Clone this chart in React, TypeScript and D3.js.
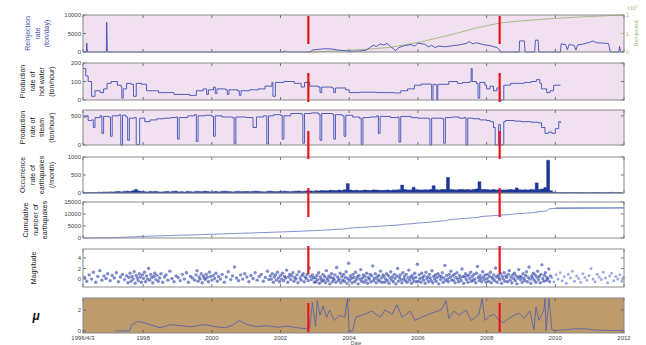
import React from 'react';
import * as d3 from 'd3';

// x axis (decimal years)
const xTickYears = [1996.25, 1998, 2000, 2002, 2004, 2006, 2008, 2010, 2012];
const xTickLabels = ['1996/4/3', '1998', '2000', '2002', '2004', '2006', '2008', '2010', '2012'];
const redLineYears = [2002.81, 2008.38];
// hand-drawn red marks: vertical spans in px
const redSpans = [[16, 44], [73, 102], [131, 159], [188, 217], [246, 274], [303, 332]];

// panel 1: reinjection rate (ton/day) and cumulative reinjection (x10^7)
const reinjection = [
  [1996.25, 0], [1996.35, 0], [1996.36, 2400], [1996.38, 0], [1996.93, 0], [1996.94, 8000], [1996.96, 0],
  [2002.1, 0], [2002.12, 300], [2002.2, 0], [2002.85, 0], [2002.95, 600], [2003.1, 700], [2003.3, 900],
  [2003.5, 800], [2003.7, 500], [2003.9, 300], [2004.1, 200], [2004.3, 250], [2004.5, 500], [2004.6, 1200],
  [2004.7, 1800], [2004.8, 1500], [2004.9, 2200], [2005.0, 1900], [2005.1, 2300], [2005.2, 1500],
  [2005.3, 800], [2005.35, 400], [2005.45, 1200], [2005.6, 1700], [2005.8, 2000], [2005.9, 1600],
  [2006.0, 2400], [2006.2, 2100], [2006.3, 1400], [2006.4, 1800], [2006.5, 1200], [2006.6, 1600],
  [2006.8, 1400], [2007.0, 1700], [2007.2, 1900], [2007.4, 2300], [2007.5, 2800], [2007.6, 2200],
  [2007.7, 2500], [2007.9, 2000], [2008.1, 1700], [2008.3, 1200], [2008.38, 600], [2008.4, 0],
  [2008.95, 0], [2008.96, 3000], [2009.1, 3000], [2009.12, 0], [2009.4, 0], [2009.42, 3200],
  [2009.5, 3200], [2009.52, 0], [2010.15, 0], [2010.17, 2200], [2010.3, 2000], [2010.35, 600],
  [2010.4, 2000], [2010.55, 1800], [2010.6, 500], [2010.65, 1900], [2010.8, 2100], [2010.9, 2400],
  [2011.0, 2600], [2011.1, 3000], [2011.2, 2500], [2011.4, 2400], [2011.55, 2300], [2011.6, 0],
  [2011.85, 0], [2011.87, 1500], [2011.9, 0], [2012, 0],
];
const cumReinjection = [
  [2002.8, 0], [2003.5, 0.05], [2004.5, 0.15], [2005.2, 0.25], [2006.1, 0.55], [2007.0, 0.95],
  [2007.7, 1.3], [2008.4, 1.57], [2009.0, 1.68], [2010.0, 1.82], [2011.0, 1.92], [2012.0, 2.0],
];

// panel 2: production rate of hot water (ton/hour)
const hotWater = [
  [1996.25, 170], [1996.33, 130], [1996.4, 100], [1996.5, 20], [1996.6, 50], [1996.75, 40], [1996.85, 60],
  [1996.95, 90], [1997.07, 100], [1997.25, 80], [1997.36, 70], [1997.38, 10], [1997.42, 60], [1997.52, 90],
  [1997.65, 85], [1997.72, 20], [1997.8, 90], [1997.95, 85], [1998.1, 50], [1998.45, 40], [1998.9, 30],
  [1999.35, 25], [1999.55, 50], [1999.75, 60], [1999.85, 30], [1999.9, 55], [2000.05, 70], [2000.1, 35],
  [2000.15, 60], [2000.4, 55], [2000.45, 30], [2000.5, 55], [2000.75, 50], [2000.8, 25], [2000.85, 50],
  [2001.1, 55], [2001.35, 60], [2001.55, 75], [2001.75, 95], [2001.78, 20], [2001.85, 95], [2002.1, 100],
  [2002.4, 90], [2002.6, 70], [2002.7, 95], [2002.85, 75], [2003.1, 70], [2003.15, 40], [2003.2, 70],
  [2003.5, 65], [2003.55, 40], [2003.6, 65], [2003.9, 55], [2004.0, 40], [2004.3, 42], [2004.8, 40],
  [2005.3, 38], [2005.5, 50], [2005.7, 60], [2005.9, 80], [2006.1, 86], [2006.38, 85], [2006.4, 0],
  [2006.44, 85], [2006.52, 80], [2006.55, 0], [2006.58, 85], [2006.9, 100], [2007.15, 90], [2007.3, 95],
  [2007.52, 100], [2007.55, 170], [2007.58, 100], [2007.7, 90], [2007.75, 10], [2007.8, 95], [2007.95, 80],
  [2008.0, 60], [2008.1, 75], [2008.2, 50], [2008.3, 65], [2008.38, 0], [2008.45, 0], [2008.5, 80],
  [2008.7, 90], [2008.9, 90], [2009.1, 95], [2009.3, 100], [2009.45, 110], [2009.55, 90], [2009.6, 60],
  [2009.75, 40], [2009.85, 50], [2009.95, 80], [2010.15, 80],
];

// panel 3: production rate of steam (ton/hour)
const steam = [
  [1996.25, 480], [1996.35, 500], [1996.4, 420], [1996.5, 430], [1996.55, 300], [1996.6, 470], [1996.75, 500],
  [1996.8, 200], [1996.85, 490], [1997.0, 480], [1997.05, 150], [1997.1, 500], [1997.3, 520], [1997.35, 0],
  [1997.4, 510], [1997.5, 480], [1997.55, 80], [1997.6, 460], [1997.75, 470], [1997.8, 10], [1997.85, 10],
  [1997.9, 460], [1998.05, 400], [1998.2, 430], [1998.4, 450], [1998.6, 460], [1998.8, 470], [1998.95, 480],
  [1999.0, 100], [1999.05, 470], [1999.3, 500], [1999.5, 520], [1999.55, 60], [1999.6, 500], [1999.8, 510],
  [2000.0, 490], [2000.05, 150], [2000.1, 500], [2000.3, 480], [2000.6, 470], [2000.65, 20], [2000.7, 480],
  [2001.0, 470], [2001.2, 300], [2001.3, 480], [2001.5, 500], [2001.6, 20], [2001.65, 500], [2001.8, 520],
  [2002.0, 510], [2002.05, 100], [2002.1, 500], [2002.3, 540], [2002.6, 530], [2002.65, 30], [2002.7, 540],
  [2002.9, 550], [2003.1, 530], [2003.15, 80], [2003.2, 540], [2003.5, 530], [2003.55, 100], [2003.6, 520],
  [2003.8, 500], [2003.85, 150], [2003.9, 510], [2004.1, 480], [2004.3, 460], [2004.35, 10], [2004.4, 470],
  [2004.6, 480], [2004.8, 500], [2004.85, 200], [2004.9, 490], [2005.2, 470], [2005.4, 480], [2005.45, 50],
  [2005.5, 490], [2005.8, 470], [2006.0, 460], [2006.3, 450], [2006.35, 0], [2006.4, 460], [2006.7, 450],
  [2006.75, 30], [2006.8, 470], [2007.0, 480], [2007.2, 460], [2007.35, 470], [2007.4, 0], [2007.45, 460],
  [2007.6, 450], [2007.8, 430], [2008.0, 420], [2008.1, 400], [2008.2, 300], [2008.25, 0], [2008.35, 350],
  [2008.4, 0], [2008.5, 400], [2008.55, 420], [2008.8, 410], [2009.0, 400], [2009.3, 390], [2009.5, 380],
  [2009.6, 300], [2009.7, 200], [2009.8, 220], [2009.9, 200], [2010.0, 280], [2010.1, 400], [2010.15, 380],
];

// panel 4: monthly occurrence of earthquakes, April 1996 .. Dec 2011
const quakeStart = 1996.25;
const quakesPerMonth = [
  5, 8, 12, 15, 10, 20, 18, 25, 22,
  30, 25, 35, 40, 30, 45, 50, 40, 60, 100, 55, 40,
  35, 30, 40, 35, 45, 30, 25, 35, 40, 30, 45, 50,
  30, 35, 25, 40, 35, 30, 45, 40, 35, 50, 40, 30,
  35, 40, 30, 45, 50, 40, 35, 30, 40, 45, 35, 40,
  40, 35, 45, 50, 40, 35, 30, 45, 50, 40, 35, 45,
  45, 50, 40, 35, 45, 50, 55, 45, 50, 60, 55, 50,
  60, 55, 70, 65, 60, 75, 70, 65, 80, 70, 90, 260,
  80, 70, 75, 65, 70, 80, 75, 70, 85, 80, 75, 70,
  75, 80, 70, 85, 80, 90, 220, 95, 80, 85, 160, 90,
  85, 80, 90, 85, 95, 200, 90, 85, 100, 95, 430, 100,
  90, 85, 95, 100, 90, 95, 85, 100, 110, 310, 100, 95,
  90, 85, 95, 80, 90, 85, 80, 90, 95, 85, 140, 90,
  85, 90, 80, 95, 90, 280, 100, 110, 150, 910, 60, 20,
  15, 10, 12, 8, 10, 15, 12, 10, 8, 12, 10, 9,
  8, 10, 12, 15, 10, 8, 12, 18, 10, 8, 12, 10,
];

// panel 6: magnitude of events [time, magnitude]
const magnitudes = [
  [1996.3, 0.3], [1996.36, -0.4], [1996.43, 0.8], [1996.5, 0.0], [1996.55, 1.3], [1996.62, -0.6], [1996.68, 0.5],
  [1996.74, 1.6], [1996.8, -0.2], [1996.86, 0.6], [1996.92, 0.1], [1996.97, 1.0],
  [1997.04, -0.3], [1997.1, 0.7], [1997.16, 0.2], [1997.22, 1.2], [1997.28, -0.5], [1997.34, 0.4], [1997.4, 0.9],
  [1997.46, -0.1], [1997.52, 0.6], [1997.56, -0.7], [1997.59, 0.3], [1997.62, 1.1], [1997.65, -0.4], [1997.68, 0.5],
  [1997.71, 0.0], [1997.74, 1.4], [1997.77, -0.8], [1997.8, 0.7], [1997.83, 0.2], [1997.86, -0.3], [1997.89, 1.0],
  [1997.92, 0.4], [1997.95, -0.6], [1997.98, 0.8],
  [1998.01, 0.1], [1998.04, 1.3], [1998.07, -0.5], [1998.1, 0.6], [1998.13, 0.0], [1998.16, 2.0], [1998.19, -0.2],
  [1998.22, 0.9], [1998.25, 0.3], [1998.28, -0.7], [1998.31, 0.5], [1998.34, 1.1], [1998.37, -0.1], [1998.4, 0.7],
  [1998.44, -0.4], [1998.48, 0.2], [1998.52, 1.0], [1998.57, -0.6], [1998.62, 0.4], [1998.67, 0.8], [1998.72, -0.2],
  [1998.78, 1.5], [1998.84, 0.1], [1998.9, -0.5], [1998.96, 0.6],
  [1999.02, 0.3], [1999.08, -0.3], [1999.14, 0.9], [1999.2, 0.0], [1999.26, 1.2], [1999.32, -0.6], [1999.38, 0.5],
  [1999.44, 0.2], [1999.5, -0.2], [1999.54, 0.8], [1999.57, 1.6], [1999.6, -0.4], [1999.63, 0.4], [1999.66, 0.0],
  [1999.69, 1.0], [1999.72, -0.7], [1999.75, 0.6], [1999.78, 0.2], [1999.81, -0.1], [1999.84, 0.9], [1999.87, 0.3],
  [1999.9, -0.5], [1999.93, 1.3], [1999.96, 0.5],
  [2000.0, -0.2], [2000.04, 0.7], [2000.08, 0.1], [2000.12, 1.1], [2000.16, -0.4], [2000.2, 0.5], [2000.25, 0.0],
  [2000.3, 0.9], [2000.36, -0.6], [2000.42, 0.4], [2000.48, 1.4], [2000.55, -0.1], [2000.6, 0.6], [2000.66, 2.3],
  [2000.72, 0.2], [2000.78, -0.3], [2000.84, 0.8], [2000.9, 0.0], [2000.96, 1.0],
  [2001.02, 0.4], [2001.08, -0.5], [2001.14, 0.7], [2001.2, 0.1], [2001.26, 1.2], [2001.32, -0.2], [2001.38, 0.5],
  [2001.44, 0.9], [2001.5, -0.4], [2001.56, 0.3], [2001.62, 1.5], [2001.66, -0.1], [2001.7, 0.6], [2001.73, 0.0],
  [2001.76, 1.0], [2001.79, -0.6], [2001.82, 0.4], [2001.85, 0.8], [2001.88, -0.2], [2001.91, 1.3], [2001.94, 0.2],
  [2001.97, -0.5],
  [2002.0, 0.7], [2002.03, 0.0], [2002.06, 1.1], [2002.09, -0.3], [2002.12, 0.5], [2002.15, 0.2], [2002.18, 1.7],
  [2002.21, -0.6], [2002.24, 0.4], [2002.27, 0.9], [2002.3, -0.1], [2002.33, 0.6], [2002.36, 1.2], [2002.39, -0.4],
  [2002.42, 0.3], [2002.45, 0.0], [2002.48, 0.8], [2002.51, -0.7], [2002.54, 1.4], [2002.57, 0.2], [2002.6, -0.2],
  [2002.63, 0.7], [2002.66, 1.0], [2002.69, -0.5], [2002.72, 0.4], [2002.75, 0.1], [2002.78, 0.9], [2002.81, -0.3],
  [2002.84, 2.1], [2002.87, 0.5], [2002.9, -0.1], [2002.93, 0.8], [2002.96, 0.3], [2002.99, -0.6],
  [2003.01, 0.2], [2003.035, -0.5], [2003.06, 0.7], [2003.085, -0.1], [2003.11, 1.2], [2003.135, -0.8], [2003.16, 0.4],
  [2003.185, 0.0], [2003.21, -0.4], [2003.235, 0.9], [2003.26, -0.2], [2003.285, 0.5], [2003.31, -0.7], [2003.335, 1.6],
  [2003.36, 0.1], [2003.385, -0.3], [2003.41, 0.6], [2003.435, -0.9], [2003.46, 0.3], [2003.485, 1.0], [2003.51, -0.5],
  [2003.535, 0.2], [2003.56, -0.1], [2003.585, 0.8], [2003.61, -0.6], [2003.635, 2.2], [2003.66, 0.4], [2003.685, -0.3],
  [2003.71, 0.0], [2003.735, 1.1], [2003.76, -0.7], [2003.785, 0.5], [2003.81, -0.2], [2003.835, 0.9], [2003.86, -0.4],
  [2003.885, 0.3], [2003.91, 1.4], [2003.935, -0.8], [2003.96, 0.1], [2003.985, 3.0],
  [2004.01, -0.3], [2004.035, 0.6], [2004.06, 0.1], [2004.085, -0.7], [2004.11, 0.9], [2004.135, 0.3], [2004.16, -0.5],
  [2004.185, 1.3], [2004.21, -0.1], [2004.235, 0.4], [2004.26, -0.9], [2004.285, 0.7], [2004.31, 0.0], [2004.335, 1.8],
  [2004.36, -0.4], [2004.385, 0.2], [2004.41, 0.8], [2004.435, -0.6], [2004.46, 0.5], [2004.485, -0.2], [2004.51, 1.1],
  [2004.535, -0.8], [2004.56, 0.3], [2004.585, 0.0], [2004.61, 0.9], [2004.635, -0.5], [2004.66, 0.6], [2004.685, 2.5],
  [2004.71, -0.3], [2004.735, 0.1], [2004.76, 1.0], [2004.785, -0.7], [2004.81, 0.4], [2004.835, -0.1], [2004.86, 0.7],
  [2004.885, -0.4], [2004.91, 1.5], [2004.935, 0.2], [2004.96, -0.6], [2004.985, 0.8],
  [2005.01, 0.5], [2005.035, -0.6], [2005.06, 0.0], [2005.085, 1.0], [2005.11, -0.3], [2005.135, 0.7], [2005.16, -0.8],
  [2005.185, 0.2], [2005.21, 1.4], [2005.235, -0.2], [2005.26, 0.4], [2005.285, -0.5], [2005.31, 0.9], [2005.335, 0.1],
  [2005.36, -0.9], [2005.385, 0.6], [2005.41, 2.0], [2005.435, -0.4], [2005.46, 0.3], [2005.485, 0.8], [2005.51, -0.1],
  [2005.535, -0.7], [2005.56, 1.2], [2005.585, 0.0], [2005.61, 0.5], [2005.635, -0.3], [2005.66, 0.9], [2005.685, -0.6],
  [2005.71, 0.2], [2005.735, 1.7], [2005.76, -0.2], [2005.785, 0.4], [2005.81, -0.8], [2005.835, 0.7], [2005.86, 0.1],
  [2005.885, -0.4], [2005.91, 1.1], [2005.935, 0.3], [2005.96, -0.5], [2005.985, 2.8],
  [2006.01, -0.4], [2006.035, 0.8], [2006.06, 0.1], [2006.085, -0.6], [2006.11, 1.1], [2006.135, 0.3], [2006.16, -0.2],
  [2006.185, 0.6], [2006.21, -0.8], [2006.235, 1.3], [2006.26, 0.0], [2006.285, 0.4], [2006.31, -0.5], [2006.335, 0.9],
  [2006.36, 0.2], [2006.385, -0.3], [2006.41, 1.6], [2006.435, -0.7], [2006.46, 0.5], [2006.485, 0.0], [2006.51, 0.8],
  [2006.535, -0.4], [2006.56, 0.3], [2006.585, 1.0], [2006.61, -0.9], [2006.635, 0.6], [2006.66, -0.1], [2006.685, 0.4],
  [2006.71, 1.2], [2006.735, -0.6], [2006.76, 0.2], [2006.785, 2.6], [2006.81, -0.3], [2006.835, 0.7], [2006.86, 0.0],
  [2006.885, -0.5], [2006.91, 0.9], [2006.935, 0.3], [2006.96, 1.5], [2006.985, -0.2],
  [2007.01, 0.6], [2007.035, -0.2], [2007.06, 0.9], [2007.085, -0.7], [2007.11, 0.3], [2007.135, 1.2], [2007.16, 0.0],
  [2007.185, -0.5], [2007.21, 0.7], [2007.235, 0.2], [2007.26, -0.3], [2007.285, 1.9], [2007.31, 0.5], [2007.335, -0.8],
  [2007.36, 0.4], [2007.385, 1.0], [2007.41, -0.1], [2007.435, 0.6], [2007.46, -0.6], [2007.485, 0.8], [2007.51, 0.1],
  [2007.535, 1.3], [2007.56, -0.4], [2007.585, 0.5], [2007.61, -0.2], [2007.635, 0.9], [2007.66, 0.0], [2007.685, -0.7],
  [2007.71, 1.1], [2007.735, 2.4], [2007.76, 0.3], [2007.785, -0.3], [2007.81, 0.7], [2007.835, 0.1], [2007.86, -0.5],
  [2007.885, 1.4], [2007.91, 0.4], [2007.935, -0.1], [2007.96, 0.8], [2007.985, -0.6],
  [2008.01, 0.1], [2008.035, 0.9], [2008.06, -0.4], [2008.085, 0.5], [2008.11, 1.3], [2008.135, -0.7], [2008.16, 0.3],
  [2008.185, 0.0], [2008.21, 0.8], [2008.235, -0.3], [2008.26, 2.1], [2008.285, 0.4], [2008.31, -0.6], [2008.335, 0.7],
  [2008.36, 0.2], [2008.385, -0.1], [2008.41, 1.0], [2008.435, -0.8], [2008.46, 0.5], [2008.485, 0.0], [2008.51, 1.2],
  [2008.535, -0.4], [2008.56, 0.6], [2008.585, 0.3], [2008.61, -0.5], [2008.635, 0.9], [2008.66, 1.6], [2008.685, -0.2],
  [2008.71, 0.4], [2008.735, -0.7], [2008.76, 0.8], [2008.785, 0.1], [2008.81, 1.1], [2008.835, -0.3], [2008.86, 0.6],
  [2008.885, -0.9], [2008.91, 0.2], [2008.935, 1.8], [2008.96, 0.5], [2008.985, -0.1],
  [2009.01, 0.4], [2009.035, -0.6], [2009.06, 1.0], [2009.085, 0.1], [2009.11, -0.3], [2009.135, 0.7], [2009.16, 1.4],
  [2009.185, -0.5], [2009.21, 0.3], [2009.235, 2.3], [2009.26, 0.0], [2009.285, -0.8], [2009.31, 0.6], [2009.335, 0.2],
  [2009.36, 1.1], [2009.385, -0.2], [2009.41, 0.8], [2009.435, -0.6], [2009.46, 0.4], [2009.485, 1.5], [2009.51, -0.1],
  [2009.535, 0.5], [2009.56, -0.7], [2009.585, 0.9], [2009.61, 2.7], [2009.635, 0.1], [2009.66, -0.4], [2009.685, 0.7],
  [2009.71, 1.2], [2009.735, -0.3], [2009.76, 0.3], [2009.785, 0.0], [2009.81, 1.9], [2009.835, -0.5], [2009.86, 0.6],
];
const magnitudesLate = [
  [2009.9, 0.3], [2009.96, -0.5], [2010.02, 0.8], [2010.08, 0.0], [2010.14, 1.2], [2010.2, -0.3], [2010.26, 0.5],
  [2010.32, -0.8], [2010.38, 0.9], [2010.44, 0.2], [2010.5, 1.5], [2010.56, -0.4], [2010.62, 0.6], [2010.68, 0.1],
  [2010.74, -0.6], [2010.8, 1.0], [2010.86, 0.3], [2010.92, -0.2], [2010.98, 0.7], [2011.04, 2.0], [2011.1, 0.0],
  [2011.16, -0.5], [2011.22, 0.9], [2011.28, 0.4], [2011.34, -0.1], [2011.4, 1.3], [2011.46, 0.2], [2011.52, -0.7],
  [2011.58, 0.6], [2011.64, 1.1], [2011.7, -0.3], [2011.76, 0.5], [2011.82, 0.0], [2011.88, 0.8], [2011.94, -0.4],
  [2011.98, 0.3],
];

// panel 7: mu
const mu = [
  [1997.18, 0], [1997.6, 0], [1997.68, 0.6], [1997.85, 0.9], [1998.0, 0.8], [1998.2, 0.6], [1998.5, 0.3],
  [1998.8, 0.6], [1999.1, 0.5], [1999.4, 0.4], [1999.6, 0.5], [1999.8, 0.6], [2000.1, 0.4], [2000.4, 0.3],
  [2000.6, 0.55], [2000.8, 1.0], [2001.0, 0.65], [2001.3, 0.4], [2001.6, 0.5], [2001.9, 0.35], [2002.2, 0.45],
  [2002.5, 0.3], [2002.75, 0.2], [2002.85, 0.3], [2002.93, 2.7], [2003.02, 0.4], [2003.07, 2.9], [2003.15, 1.5],
  [2003.24, 2.4], [2003.34, 1.3], [2003.43, 2.0], [2003.57, 1.0], [2003.72, 1.5], [2003.87, 1.3], [2003.95, 3.1],
  [2004.0, 0], [2004.1, 0], [2004.19, 1.3], [2004.46, 1.6], [2004.66, 1.9], [2004.9, 1.3], [2005.04, 2.0],
  [2005.25, 1.6], [2005.39, 2.5], [2005.54, 1.3], [2005.77, 1.9], [2005.92, 1.0], [2006.1, 1.3], [2006.4, 1.7],
  [2006.68, 2.0], [2006.82, 2.9], [2006.9, 1.2], [2007.05, 1.9], [2007.2, 1.5], [2007.4, 2.0], [2007.55, 1.0],
  [2007.78, 1.6], [2007.87, 3.15], [2007.95, 1.0], [2008.07, 1.4], [2008.22, 1.6], [2008.36, 1.0], [2008.5, 0.8],
  [2008.65, 1.2], [2008.8, 1.5], [2008.94, 1.7], [2009.09, 1.2], [2009.26, 1.9], [2009.38, 0.1], [2009.44, 2.3],
  [2009.52, 1.0], [2009.67, 2.0], [2009.7, 3.15], [2009.73, 0], [2009.82, 3.15], [2009.9, 0.1], [2010.0, 0.05],
  [2010.3, 0.1], [2010.6, 0.2], [2010.9, 0.2], [2011.1, 0.1], [2011.4, 0.05], [2012.0, 0.05],
];

const X0 = 83, X1 = 624;
const x = d3.scaleLinear().domain([1996.25, 2012]).range([X0, X1]);

const PINK = '#f1e0ef';
const TAN = '#bd9b6c';
const BLUE = '#3d4fb8';
const GREEN = '#9fb87a';

type Panel = {
  top: number; bottom: number; domain: [number, number]; ticks: number[];
  bg: string; label: string[]; labelColor?: string; labelX: number;
};

const panels: Panel[] = [
  { top: 15, bottom: 52, domain: [0, 10000], ticks: [0, 5000, 10000], bg: PINK,
    label: ['Reinjection', 'rate', '(ton/day)'], labelColor: '#4050b0', labelX: 30 },
  { top: 63, bottom: 100, domain: [0, 200], ticks: [0, 100, 200], bg: PINK,
    label: ['Production', 'rate of', 'hot water', '(ton/hour)'], labelX: 25 },
  { top: 110, bottom: 145, domain: [0, 600], ticks: [0, 500], bg: PINK,
    label: ['Production', 'rate of', 'steam', '(ton/hour)'], labelX: 25 },
  { top: 157, bottom: 193, domain: [0, 1000], ticks: [0, 500, 1000], bg: '#ffffff',
    label: ['Occurrence', 'rate of', 'earthquakes', '(/month)'], labelX: 25 },
  { top: 202, bottom: 238, domain: [0, 15000], ticks: [0, 5000, 10000, 15000], bg: '#ffffff',
    label: ['Cumulative', 'number of', 'earthquakes'], labelX: 28 },
  { top: 249, bottom: 287, domain: [-1.5, 5.7], ticks: [0, 2, 4], bg: '#ffffff',
    label: ['Magnitude'], labelX: 36 },
  { top: 298, bottom: 333, domain: [-0.2, 3.15], ticks: [0, 2], bg: TAN,
    label: [], labelX: 36 },
];

const yScale = (p: Panel) => d3.scaleLinear().domain(p.domain).range([p.bottom, p.top]);

const App = () => {
  const ys = panels.map(yScale);
  const mk = (yy: d3.ScaleLinear<number, number>) =>
    d3.line<number[]>().x(d => x(d[0])).y(d => yy(d[1]));

  const monthT = quakesPerMonth.map((_, i) => quakeStart + i / 12);
  const rateArea = d3.area<number>()
    .x((_, i) => x(monthT[i]))
    .y0(ys[3](0))
    .y1(d => ys[3](d))
    .curve(d3.curveStepAfter);
  const cum = d3.cumsum(quakesPerMonth);
  const cumLine = d3.line<number>().x((_, i) => x(monthT[i] + 1 / 12)).y(d => ys[4](d));

  const yRight = d3.scaleLinear().domain([0, 2]).range([panels[0].bottom, panels[0].top]);

  const font = 'Liberation Sans, Arial, sans-serif';

  return (
    <div style={{ position: 'absolute', left: 0, top: 0 }}>
      <svg width={646} height={345} style={{ display: 'block', background: '#fff' }} fontFamily={font}>
        {panels.map((p, pi) => {
          const yy = ys[pi];
          const cy = (p.top + p.bottom) / 2;
          return (
            <g key={pi}>
              <rect x={X0} y={p.top} width={X1 - X0} height={p.bottom - p.top} fill={p.bg} />
              {xTickYears.map((t, i) => (
                <g key={i} stroke="#555" strokeWidth={0.8}>
                  <line x1={x(t)} x2={x(t)} y1={p.top} y2={p.top + 3} />
                  <line x1={x(t)} x2={x(t)} y1={p.bottom} y2={p.bottom - 3} />
                </g>
              ))}
              {p.ticks.map(t => (
                <g key={t}>
                  <line x1={X0} x2={X0 + 3} y1={yy(t)} y2={yy(t)} stroke="#555" strokeWidth={0.8} />
                  {pi !== 0 && <line x1={X1} x2={X1 - 3} y1={yy(t)} y2={yy(t)} stroke="#555" strokeWidth={0.8} />}
                  <text x={X0 - 2} y={yy(t) + 2} fontSize={6} textAnchor="end" fill="#444">{t}</text>
                </g>
              ))}
              {p.label.length > 0 && (
                <text transform={`translate(${p.labelX},${cy}) rotate(-90)`} fontSize={7} textAnchor="middle"
                  fill={p.labelColor || '#222'}>
                  {p.label.map((l, i) => (
                    <tspan key={i} x={0} dy={i === 0 ? 0 : 9.5}>{l}</tspan>
                  ))}
                </text>
              )}
            </g>
          );
        })}

        {/* panel 1 */}
        <path d={mk(yRight)(cumReinjection) || ''} fill="none" stroke={GREEN} strokeWidth={0.9} />
        <path d={mk(ys[0])(reinjection) || ''} fill="none" stroke={BLUE} strokeWidth={0.9} />
        {[0, 1, 2].map(t => (
          <g key={t}>
            <line x1={X1} x2={X1 - 3} y1={yRight(t)} y2={yRight(t)} stroke={GREEN} strokeWidth={0.8} />
            <text x={X1 + 2} y={yRight(t) + 2} fontSize={5} fill={GREEN}>{t}</text>
          </g>
        ))}
        <text x={X1 + 3} y={10} fontSize={5} fill={GREEN}>×10<tspan dy={-2} fontSize={4}>7</tspan></text>
        <text transform={`translate(${X1 + 14},${(panels[0].top + panels[0].bottom) / 2}) rotate(-90)`}
          fontSize={5.5} textAnchor="middle" fill={GREEN}>Reinjected</text>

        {/* panel 2, 3 */}
        <path d={mk(ys[1]).curve(d3.curveStepAfter)(hotWater) || ''} fill="none" stroke={BLUE} strokeWidth={0.9} />
        <path d={mk(ys[2]).curve(d3.curveStepAfter)(steam) || ''} fill="none" stroke={BLUE} strokeWidth={0.9} />

        {/* panel 4, 5 */}
        <path d={rateArea(quakesPerMonth) || ''} fill="#1f3797" stroke="#1f3797" strokeWidth={0.6} />
        <path d={cumLine(cum) || ''} fill="none" stroke="#7080c8" strokeWidth={0.9} />
        <line x1={x(2010.0)} x2={X1} y1={ys[4](cum[cum.length - 1])} y2={ys[4](cum[cum.length - 1])} stroke="#7080c8" strokeWidth={0.9} />

        {/* panel 6 */}
        {magnitudesLate.map((d, i) => (
          <circle key={'l' + i} cx={x(d[0])} cy={ys[5](d[1])} r={1.5} fill="#8c97d8" opacity={0.8} />
        ))}
        {magnitudes.map((d, i) => (
          <circle key={i} cx={x(d[0])} cy={ys[5](d[1])} r={1.7} fill="#2a3ea6" opacity={0.6} />
        ))}

        {/* panel 7 */}
        <path d={mk(ys[6])(mu) || ''} fill="none" stroke="#5a64a8" strokeWidth={0.9} />
        <text x={36} y={320} fontSize={12} fontStyle="italic" fontWeight="bold" textAnchor="middle" fill="#111">μ</text>

        {/* frames */}
        {panels.map((p, pi) => (
          <rect key={pi} x={X0} y={p.top} width={X1 - X0} height={p.bottom - p.top} fill="none" stroke="#8a8a8a" strokeWidth={1} />
        ))}

        {/* x tick labels */}
        {xTickYears.map((t, i) => (
          <text key={i} x={x(t)} y={340} fontSize={6} textAnchor="middle" fill="#444">{xTickLabels[i]}</text>
        ))}
        <text x={x(2004.2)} y={345} fontSize={5} textAnchor="middle" fill="#555">Date</text>

        {/* red marks */}
        {redLineYears.map((t, i) => redSpans.map((s, j) => (
          <line key={i + '-' + j} x1={x(t)} x2={x(t)} y1={s[0]} y2={s[1]} stroke="#e8141c" strokeWidth={2.2} />
        )))}
      </svg>
    </div>
  );
};

export default App;
